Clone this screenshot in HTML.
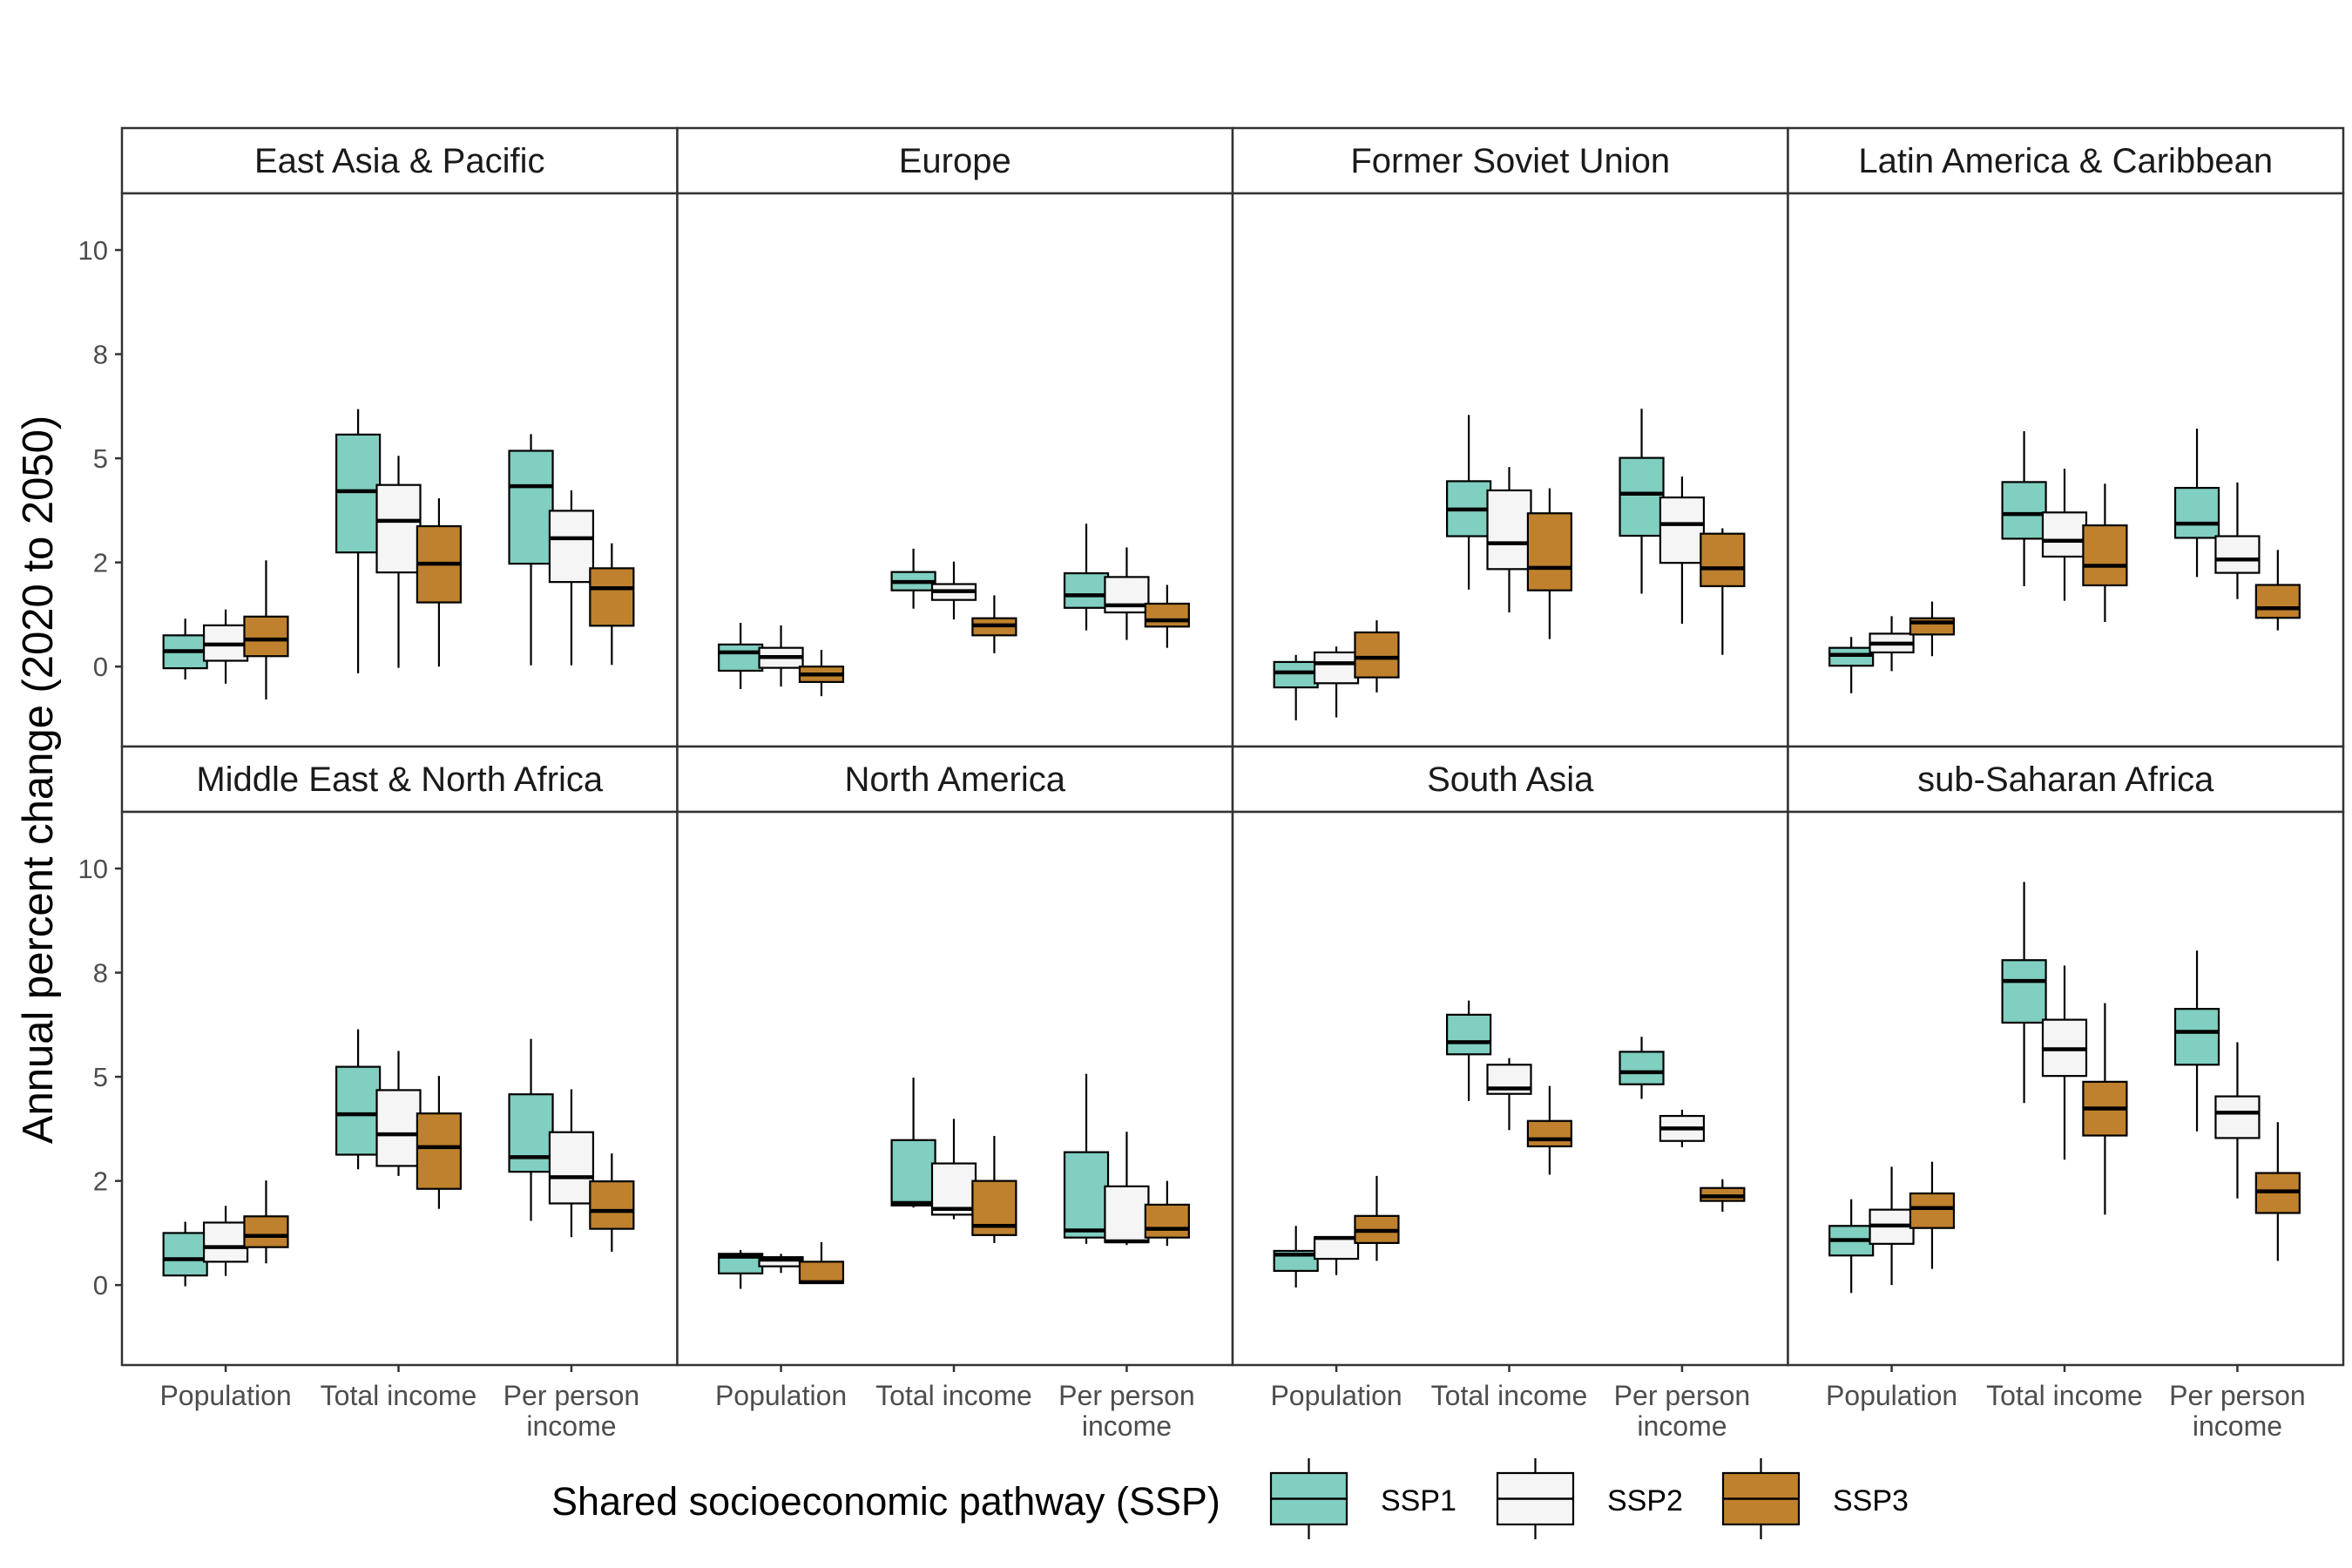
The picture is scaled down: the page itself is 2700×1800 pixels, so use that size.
<!DOCTYPE html>
<html><head><meta charset="utf-8"><style>
html,body{margin:0;padding:0;background:#fff;}
svg{display:block;font-family:"Liberation Sans",Arial,sans-serif;}
</style></head><body>
<svg id="chart" width="2700" height="1800" viewBox="0 0 2700 1800" xmlns="http://www.w3.org/2000/svg">
<text x="60" y="895" transform="rotate(-90 60 895)" text-anchor="middle" font-size="49" fill="#000">Annual percent change (2020 to 2050)</text>
<g id="panels"></g>
<g>
<text x="633" y="1739" font-size="45" fill="#000">Shared socioeconomic pathway (SSP)</text>
<g id="legend-keys"></g>
</g>
</svg>
<script>
const regions = ["East Asia & Pacific","Europe","Former Soviet Union","Latin America & Caribbean","Middle East & North Africa","North America","South Asia","sub-Saharan Africa"];
const categories = ["Population","Total income","Per person income"];
const ssps = ["SSP1","SSP2","SSP3"];
const sspColors = ["#80cfc0","#f5f5f5","#bf812d"];
const yTickValues = [0,2.5,5,7.5,10];
const yTickLabels = ["0","2","5","8","10"];
// each box: [upper whisker, Q3, median, Q1, lower whisker]; order per region: cat x ssp
const eastAsiaPacific = [
 [1.15,0.75,0.37,-0.04,-0.31],[1.37,0.99,0.53,0.14,-0.41],[2.55,1.20,0.65,0.25,-0.79],
 [6.18,5.57,4.21,2.74,-0.16],[5.06,4.36,3.50,2.26,-0.03],[4.04,3.37,2.47,1.54,0],
 [5.58,5.18,4.33,2.47,0.03],[4.23,3.74,3.08,2.03,0.03],[2.96,2.36,1.88,0.98,0.04]];
const europe = [
 [1.05,0.53,0.34,-0.10,-0.54],[0.99,0.45,0.23,-0.03,-0.48],[0.40,0,-0.19,-0.37,-0.71],
 [2.83,2.27,2.03,1.83,1.39],[2.52,1.98,1.81,1.60,1.13],[1.71,1.16,0.99,0.75,0.32],
 [3.43,2.24,1.71,1.41,0.87],[2.86,2.15,1.47,1.30,0.64],[1.96,1.51,1.11,0.96,0.45]];
const formerSovietUnion = [
 [0.28,0.11,-0.14,-0.50,-1.29],[0.48,0.34,0.08,-0.40,-1.22],[1.11,0.82,0.21,-0.26,-0.62],
 [6.04,4.45,3.77,3.13,1.85],[4.79,4.23,2.96,2.34,1.30],[4.28,3.68,2.37,1.83,0.66],
 [6.19,5.01,4.15,3.14,1.75],[4.56,4.06,3.42,2.49,1.03],[3.32,3.19,2.36,1.93,0.28]];
const latinAmerica = [
 [0.71,0.45,0.28,0.02,-0.64],[1.21,0.79,0.55,0.34,-0.11],[1.56,1.16,1.06,0.77,0.25],
 [5.65,4.43,3.66,3.07,1.93],[4.75,3.70,3.02,2.64,1.58],[4.39,3.39,2.42,1.95,1.07],
 [5.71,4.29,3.43,3.09,2.15],[4.42,3.13,2.57,2.25,1.62],[2.80,1.96,1.40,1.17,0.87]];
const middleEast = [
 [1.52,1.25,0.62,0.23,-0.03],[1.90,1.50,0.91,0.56,0.22],[2.51,1.65,1.18,0.91,0.52],
 [6.14,5.24,4.10,3.13,2.78],[5.62,4.68,3.62,2.86,2.62],[5.02,4.12,3.31,2.31,1.83],
 [5.91,4.58,3.07,2.72,1.54],[4.70,3.67,2.59,1.96,1.15],[3.16,2.49,1.78,1.35,0.80]];
const northAmerica = [
 [0.84,0.75,0.68,0.28,-0.09],[0.75,0.67,0.61,0.45,0.29],[1.03,0.56,0.07,0.05,0.03],
 [4.98,3.48,1.97,1.91,1.86],[3.99,2.92,1.83,1.69,1.58],[3.58,2.50,1.42,1.20,1.01],
 [5.07,3.19,1.31,1.14,0.99],[3.68,2.37,1.05,1.03,0.96],[2.50,1.93,1.35,1.14,0.94]];
const southAsia = [
 [1.42,0.82,0.73,0.34,-0.06],[1.15,1.15,1.13,0.63,0.24],[2.62,1.66,1.30,1.01,0.58],
 [6.83,6.49,5.83,5.54,4.42],[5.45,5.29,4.72,4.59,3.72],[4.78,3.94,3.50,3.33,2.65],
 [5.96,5.60,5.11,4.82,4.47],[4.21,4.06,3.76,3.46,3.31],[2.54,2.33,2.13,2.02,1.76]];
const subSaharanAfrica = [
 [2.06,1.42,1.08,0.71,-0.19],[2.84,1.81,1.43,0.99,0],[2.96,2.20,1.85,1.37,0.39],
 [9.68,7.80,7.30,6.30,4.37],[7.67,6.37,5.66,5.02,3.01],[6.77,4.88,4.24,3.59,1.69],
 [8.03,6.63,6.08,5.29,3.69],[5.83,4.53,4.14,3.53,2.08],[3.91,2.69,2.25,1.73,0.58]];
const regionData = [eastAsiaPacific,europe,formerSovietUnion,latinAmerica,middleEast,northAmerica,southAsia,subSaharanAfrica];

const NS="http://www.w3.org/2000/svg";
const root=document.getElementById('panels');
function mk(tag,attrs,parent){const e=document.createElementNS(NS,tag);for(const k in attrs)e.setAttribute(k,attrs[k]);(parent||root).appendChild(e);return e;}
const colW=637.5, panelW=637.5, plotW=635, stripTop=[147,857], stripH=75, panelH=635;
const yMin=-1.92, yMax=11.36;
function yScale(row,v){const top=stripTop[row]+stripH;return top+(yMax-v)/(yMax-yMin)*panelH;}
function xScale(col,catIdx,sspIdx){const left=140+col*colW;const step=plotW/3.2;return left+(catIdx+0.6)*step+(sspIdx-1)*46.4;}

regionData.forEach((data,r)=>{
  const row=Math.floor(r/4), col=r%4;
  const left=140+col*colW, top=stripTop[row];
  const g=mk('g',{});
  
  
  const strip=mk('rect',{x:left,y:top,width:panelW,height:stripH,fill:'#fff',stroke:'#333','stroke-width':2.5},g);
  
  
  const st=mk('text',{x:left+panelW/2,y:top+51,'text-anchor':'middle','font-size':40,fill:'#1a1a1a'},g);
  st.textContent=regions[r];
  
  
  const pb=mk('rect',{x:left,y:top+stripH,width:panelW,height:panelH,fill:'#fff',stroke:'#333','stroke-width':2.5},g);
  
  
  if(col===0){
    yTickValues.forEach((tv,i)=>{
      const y=yScale(row,tv);
      mk('line',{x1:left-8,x2:left,y1:y,y2:y,stroke:'#333','stroke-width':2.5},g);
      const t=mk('text',{x:left-16,y:y+11,'text-anchor':'end','font-size':31,fill:'#4d4d4d'},g);
      t.textContent=yTickLabels[i];
      
      
    });
  }
  if(row===1){
    categories.forEach((c,ci)=>{
      const x=xScale(col,ci,1);const yb=top+stripH+panelH;
      mk('line',{x1:x,x2:x,y1:yb,y2:yb+8,stroke:'#333','stroke-width':2.5},g);
      const t=mk('text',{x:x,y:yb+46,'text-anchor':'middle','font-size':32,fill:'#4d4d4d'},g);
      
      
      if(c==="Per person income"){
        const a=mk('tspan',{x:x,dy:0},t);a.textContent="Per person";
        const b=mk('tspan',{x:x,dy:35},t);b.textContent="income";
      } else t.textContent=c;
    });
  }
  data.forEach((s,k)=>{
    const ci=Math.floor(k/3), si=k%3;
    const cx=xScale(col,ci,si), hw=25;
    const bg=mk('g',{},g);
    
    
    mk('line',{x1:cx,x2:cx,y1:yScale(row,s[0]),y2:yScale(row,s[1]),stroke:'#000','stroke-width':2.2},bg);
    mk('line',{x1:cx,x2:cx,y1:yScale(row,s[3]),y2:yScale(row,s[4]),stroke:'#000','stroke-width':2.2},bg);
    const y3=yScale(row,s[1]), y1=yScale(row,s[3]);
    mk('rect',{x:cx-hw,y:y3,width:2*hw,height:Math.max(0.5,y1-y3),fill:sspColors[si],stroke:'#000','stroke-width':2.2},bg);
    const ym=yScale(row,s[2]);
    mk('line',{x1:cx-hw,x2:cx+hw,y1:ym,y2:ym,stroke:'#000','stroke-width':4.5},bg);
  });
});

const lk=document.getElementById('legend-keys');
const keyX=[1459,1719,1978];
ssps.forEach((s,i)=>{
  const g=mk('g',{},lk);
  
  
  const cx=keyX[i]+43.5;
  mk('line',{x1:cx,x2:cx,y1:1674,y2:1767,stroke:'#000','stroke-width':2.2},g);
  mk('rect',{x:keyX[i],y:1691,width:87,height:59,fill:sspColors[i],stroke:'#000','stroke-width':2.2},g);
  mk('line',{x1:keyX[i],x2:keyX[i]+87,y1:1720.5,y2:1720.5,stroke:'#000','stroke-width':2.5},g);
  const t=mk('text',{x:keyX[i]+126,y:1734,'font-size':34,fill:'#000'},g);
  t.textContent=s;
});
</script>
</body></html>
